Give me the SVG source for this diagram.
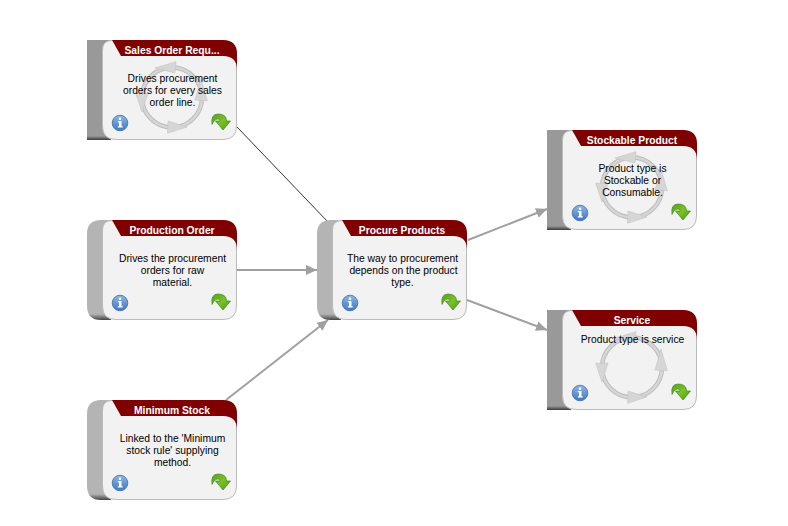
<svg xmlns="http://www.w3.org/2000/svg" xmlns:xlink="http://www.w3.org/1999/xlink" width="788" height="526" viewBox="0 0 788 526">
<style>
text{font-family:"Liberation Sans",Arial,sans-serif;font-size:10.3px;text-anchor:middle;fill:#000}
.h{font-weight:bold;fill:#fff}
.c{fill:none;stroke:#a0a0a0;stroke-width:2}
.t{fill:none;stroke:#333;stroke-width:1}
.r{fill:none;stroke:#bdbdbd;stroke-width:4.500}
.r2{fill:none;stroke:#d6d6d6;stroke-width:2.500}
.a{fill:#d6d6d6;stroke:#c4c4c4;stroke-width:.6}
</style>
<defs>
<marker id="ah" markerUnits="userSpaceOnUse" markerWidth="12" markerHeight="10" refX="11" refY="5" orient="auto"><path d="M0 0L11 5L0 10Z" fill="#a0a0a0"/></marker>
<linearGradient id="ib" x1="0" y1="0" x2="0" y2="1"><stop offset="0" stop-color="#8fb6e4"/><stop offset="1" stop-color="#3f78bf"/></linearGradient>
<linearGradient id="gb" x1="0" y1="0" x2="1" y2="1"><stop offset="0" stop-color="#4fa31a"/><stop offset=".5" stop-color="#7cc224"/><stop offset="1" stop-color="#4a9a14"/></linearGradient>
<linearGradient id="bs" x1="0" y1="0" x2="0" y2="1"><stop offset=".96" stop-color="#999"/><stop offset="1" stop-color="#3a3a3a"/></linearGradient>
<linearGradient id="br" x1="0" y1="0" x2="0" y2="1"><stop offset=".94" stop-color="#b4b4b4"/><stop offset="1" stop-color="#444"/></linearGradient>
<g id="sq"><path d="M0 0H24V100H0Z" fill="url(#bs)"/></g>
<g id="rd"><path d="M14 0H24V100H14Q0 100 0 86V14Q0 0 14 0Z" fill="url(#br)"/></g>
<g id="body">
<path d="M25 0.500H136Q149.500 .5 149.500 14V86Q149.500 99.500 136 99.500H29Q15.500 99.500 15.500 86V10Q15.500 .5 25 .5Z" fill="#f2f2f2" stroke="#bbb"/>
<path d="M25 0H136Q150 0 150 14V30Q150 16 136 16H34Z" fill="#800000"/>
</g>
<g id="cyc">
<circle class="r" cx="85" cy="57.500" r="30"/><circle class="r2" cx="85" cy="57.500" r="30"/>
<path class="a" d="M68 28L89 21.700L88 33Z"/>
<path class="a" d="M108 60L120.300 60.700L114 39Z"/>
<path class="a" d="M100 87L81 81L80.500 93.300Z"/>
<path class="a" d="M48.700 53.300L61 53.300L55 72Z"/>
</g>
<g id="ic">
<circle cx="33" cy="83" r="7.800" fill="url(#ib)" stroke="#3a6fb0" stroke-width=".8"/>
<circle cx="33" cy="78.800" r="1.300" fill="#fff"/>
<path d="M30.800 81H34.500V86.200H35.700V87.500H30.800V86.200H32V82.300H30.800Z" fill="#fff"/>
<path d="M125 84.500Q123.500 74 131 74Q139.500 74 139.500 81H143.500L136 90L128.500 81H133Q133.500 78.800 130.300 79Q127 79.500 125 84.500Z" fill="url(#gb)" stroke="#2f7a10" stroke-width=".6"/>
</g>
</defs>
<g id="connectors">
<path class="t" d="M237 127L328 222"/>
<path class="c" d="M237 270H317" marker-end="url(#ah)"/>
<path class="c" d="M226 400L328 320" marker-end="url(#ah)"/>
<path class="c" d="M468 240L547 209" marker-end="url(#ah)"/>
<path class="c" d="M467 300L547 330" marker-end="url(#ah)"/>
</g>
<g id="sales" transform="translate(87 40)"><use xlink:href="#sq" href="#sq"/><use xlink:href="#body" href="#body"/><use xlink:href="#cyc" href="#cyc"/><use xlink:href="#ic" href="#ic"/>
<text class="h" x="85" y="14">Sales Order Requ...</text><text x="85.500" y="42">Drives procurement</text><text x="85.500" y="54">orders for every sales</text><text x="85.500" y="66">order line.</text></g>
<g id="production" transform="translate(87 220)"><use xlink:href="#rd" href="#rd"/><use xlink:href="#body" href="#body"/><use xlink:href="#ic" href="#ic"/>
<text class="h" x="85" y="14">Production Order</text><text x="85.500" y="42">Drives the procurement</text><text x="85.500" y="54">orders for raw</text><text x="85.500" y="66">material.</text></g>
<g id="minimum" transform="translate(87 400)"><use xlink:href="#rd" href="#rd"/><use xlink:href="#body" href="#body"/><use xlink:href="#ic" href="#ic"/>
<text class="h" x="85" y="14">Minimum Stock</text><text x="85.500" y="42">Linked to the 'Minimum</text><text x="85.500" y="54">stock rule' supplying</text><text x="85.500" y="66">method.</text></g>
<g id="procure" transform="translate(317 220)"><use xlink:href="#rd" href="#rd"/><use xlink:href="#body" href="#body"/><use xlink:href="#ic" href="#ic"/>
<text class="h" x="85" y="14">Procure Products</text><text x="85.500" y="42">The way to procurement</text><text x="86.500" y="54">depends on the product</text><text x="85.500" y="66">type.</text></g>
<g id="stockable" transform="translate(547 130)"><use xlink:href="#sq" href="#sq"/><use xlink:href="#body" href="#body"/><use xlink:href="#cyc" href="#cyc"/><use xlink:href="#ic" href="#ic"/>
<text class="h" x="85" y="14">Stockable Product</text><text x="85.500" y="42">Product type is</text><text x="85.500" y="54">Stockable or</text><text x="85.500" y="66">Consumable.</text></g>
<g id="service" transform="translate(547 310)"><use xlink:href="#sq" href="#sq"/><use xlink:href="#body" href="#body"/><use xlink:href="#cyc" href="#cyc"/><use xlink:href="#ic" href="#ic"/>
<text class="h" x="85" y="14">Service</text><text x="85.500" y="33">Product type is service</text></g>
</svg>
